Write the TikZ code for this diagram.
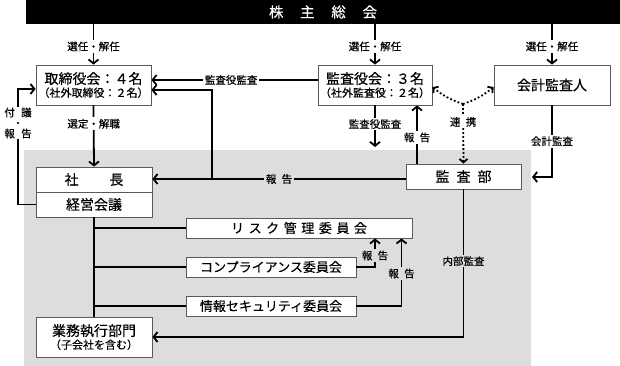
\documentclass[tikz,border=0pt]{standalone}
\usepackage{fontspec}
\setmainfont{Noto Sans CJK JP}[FakeBold=0.35]
\usetikzlibrary{arrows.meta}
\definecolor{bggray}{RGB}{221,221,221}
\definecolor{boxline}{RGB}{90,90,90}
\begin{document}
\begin{tikzpicture}[x=1pt,y=-1pt,
  box/.style={draw=boxline,line width=0.8pt,fill=white,inner sep=0pt,align=center,
    font=\fontsize{14}{15}\selectfont},
  sbox/.style={box,font=\fontsize{13}{15}\selectfont},
  conn/.style={line width=1.8pt},
  arr/.style={conn,-{Straight Barb[length=4pt,width=10pt]}},
  dotarr/.style={line width=1.8pt,dash pattern=on 1.8pt off 2.2pt,
    -{Straight Barb[length=3.5pt,width=8pt]}},
  lbl/.style={fill=white,inner sep=1.5pt,font=\fontsize{10.5}{12}\selectfont},
  glbl/.style={lbl,fill=bggray}
]
\useasboundingbox (0,0) rectangle (620,366);
% gray region
\fill[bggray] (24,150) rectangle (531,366);
% top bar
\node[fill=black,minimum width=594pt,minimum height=24pt,inner sep=0pt,text=white,
  font=\fontsize{14.5}{16}\selectfont] (gm) at (323,12)
  {株\hspace{1.15em}主\hspace{1.15em}総\hspace{1.15em}会};
% boxes
\node[box,minimum width=115pt,minimum height=40pt] (board) at (93.5,85)
  {取締役会：４名\\[-2pt]{\fontsize{11}{12}\selectfont （社外取締役：２名）}};
\node[box,minimum width=114pt,minimum height=40pt] (audit) at (375,85)
  {監査役会：３名\\[-2pt]{\fontsize{11}{12}\selectfont （社外監査役：２名）}};
\node[box,minimum width=116pt,minimum height=40pt] (acct) at (552,85) {会計監査人};
\node[box,minimum width=116pt,minimum height=25pt] (pres) at (94,179.5)
  {社\hspace{2.2em}長};
\node[box,minimum width=116pt,minimum height=25pt] (mgmt) at (94,204.5) {経営会議};
\node[box,minimum width=115pt,minimum height=25pt] (iad) at (463.5,176.5)
  {監\hspace{0.5em}査\hspace{0.5em}部};
\node[sbox,minimum width=226pt,minimum height=20pt] (risk) at (299,228)
  {リ\hspace{0.35em}ス\hspace{0.35em}ク\hspace{0.35em}管\hspace{0.35em}理\hspace{0.35em}委\hspace{0.35em}員\hspace{0.35em}会};
\node[sbox,minimum width=170pt,minimum height=20pt] (comp) at (271,267) {コンプライアンス委員会};
\node[sbox,minimum width=170pt,minimum height=20pt] (info) at (271,306) {情報セキュリティ委員会};
\node[box,minimum width=116pt,minimum height=40pt] (ops) at (94,337)
  {業務執行部門\\[-2pt]{\fontsize{11}{12}\selectfont （子会社を含む）}};
% general meeting -> elections
\draw[arr] (board.north |- gm.south) -- node[lbl,pos=0.55]{選任・解任} (board.north);
\draw[arr] (audit.north |- gm.south) -- node[lbl,pos=0.55]{選任・解任} (audit.north);
\draw[arr] (acct.north |- gm.south) -- node[lbl,pos=0.55]{選任・解任} (acct.north);
% audit board -> board
\draw[arr] (audit.west |- 0,80) -- node[lbl,pos=0.52]{監査役監査} (board.east |- 0,80);
% board -> president
\draw[arr] (board.south) -- node[lbl,pos=0.3]{選定・解職} (pres.north);
% report from internal audit to president, branch to board
\coordinate (br) at (212,179);
\draw[arr] (iad.west |- 0,179) -- node[glbl,pos=0.5]{報\hspace{0.5em}告} (pres.east |- 0,179);
\draw[arr] (br) |- (board.east |- 0,90);
% 付議・報告
\coordinate (fl) at (18,204.5);
\draw[arr] (mgmt.west) -- (fl) |- (board.west |- 0,89);
\node[lbl,inner sep=0.5pt,align=center,font=\fontsize{10.5}{10.5}\selectfont] at (18,123)
  {付\hspace{0.6em}議\\・\\報\hspace{0.6em}告};
% audit board audits down
\coordinate (adown) at (375,147);
\draw[arr] (audit.south) -- node[lbl,pos=0.45]{監査役監査} (adown);
% iad reports to audit board
\draw[arr] (iad.north -| 417,0) -- node[lbl,pos=0.45]{報\hspace{0.5em}告} (audit.south -| 417,0);
% cooperation
\coordinate (J) at (463,104);
\draw[dotarr] (J) to[bend left=10] (audit.east |- 0,87);
\draw[dotarr] (J) to[bend right=10] (acct.west |- 0,87);
\draw[dotarr] (J) -- node[lbl,pos=0.3]{連\hspace{0.5em}携} (iad.north);
% accounting audit
\coordinate (aend) at (532,177);
\draw[arr] (acct.south) |- node[lbl,pos=0.25]{会計監査} (aend);
% trunk and committees
\draw[conn] (mgmt.south) -- (ops.north);
\draw[conn] (risk.west -| mgmt.south) -- (risk.west);
\draw[conn] (comp.west -| mgmt.south) -- (comp.west);
\draw[conn] (info.west -| mgmt.south) -- (info.west);
% reports to risk committee
\draw[arr] (comp.east) -| node[glbl,pos=0.7]{報\hspace{0.5em}告} (risk.south -| 375,0);
\draw[arr] (info.east) -| node[glbl,pos=0.74]{報\hspace{0.5em}告} (risk.south -| 401.5,0);
% internal audit
\draw[arr] (iad.south) |- node[glbl,pos=0.243]{内部監査} (ops.east);
\end{tikzpicture}
\end{document}
